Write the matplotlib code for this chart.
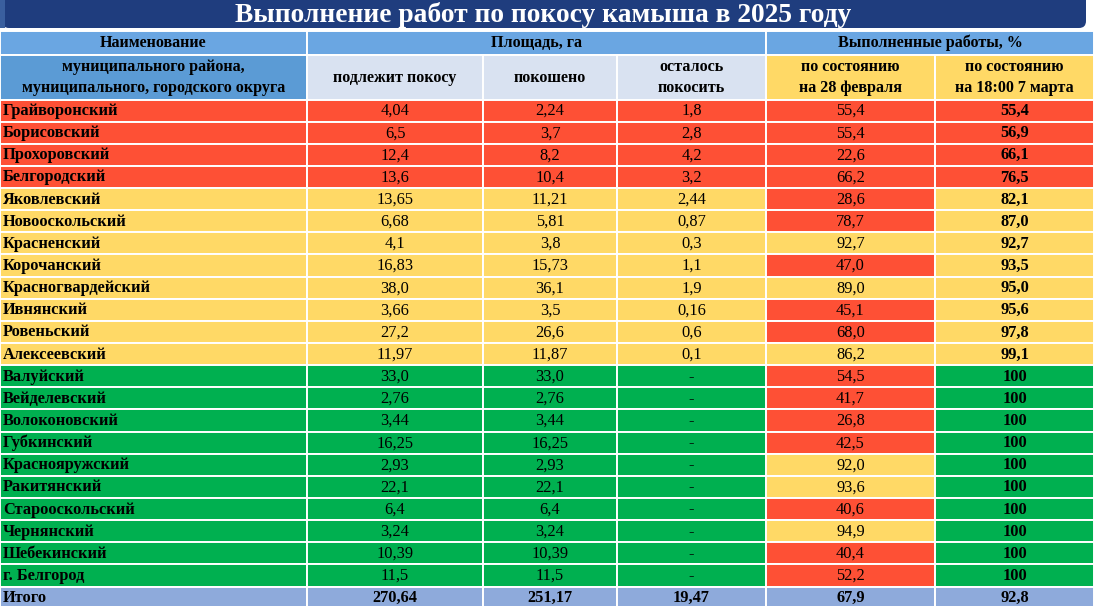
import matplotlib
matplotlib.use("Agg")
import matplotlib.pyplot as plt
from matplotlib.patches import Rectangle, FancyBboxPatch

# ---------------- data ----------------
title = "Выполнение работ по покосу камыша в 2025 году"
districts = ["Грайворонский", "Борисовский", "Прохоровский", "Белгородский",
             "Яковлевский", "Новооскольский", "Красненский", "Корочанский",
             "Красногвардейский", "Ивнянский", "Ровеньский", "Алексеевский",
             "Валуйский", "Вейделевский", "Волоконовский", "Губкинский",
             "Краснояружский", "Ракитянский", "Старооскольский", "Чернянский",
             "Шебекинский", "г. Белгород"]
to_mow = ["4,04", "6,5", "12,4", "13,6", "13,65", "6,68", "4,1", "16,83",
          "38,0", "3,66", "27,2", "11,97", "33,0", "2,76", "3,44", "16,25",
          "2,93", "22,1", "6,4", "3,24", "10,39", "11,5"]
mowed = ["2,24", "3,7", "8,2", "10,4", "11,21", "5,81", "3,8", "15,73",
         "36,1", "3,5", "26,6", "11,87", "33,0", "2,76", "3,44", "16,25",
         "2,93", "22,1", "6,4", "3,24", "10,39", "11,5"]
remaining = ["1,8", "2,8", "4,2", "3,2", "2,44", "0,87", "0,3", "1,1",
             "1,9", "0,16", "0,6", "0,1", "-", "-", "-", "-",
             "-", "-", "-", "-", "-", "-"]
pct_feb28 = ["55,4", "55,4", "22,6", "66,2", "28,6", "78,7", "92,7", "47,0",
             "89,0", "45,1", "68,0", "86,2", "54,5", "41,7", "26,8", "42,5",
             "92,0", "93,6", "40,6", "94,9", "40,4", "52,2"]
pct_mar7 = ["55,4", "56,9", "66,1", "76,5", "82,1", "87,0", "92,7", "93,5",
            "95,0", "95,6", "97,8", "99,1", "100", "100", "100", "100",
            "100", "100", "100", "100", "100", "100"]
total_label = "Итого"
totals = ["270,64", "251,17", "19,47", "67,9", "92,8"]

hdr_name = ["Наименование", "муниципального района,\nмуниципального, городского округа"]
hdr_area = "Площадь, га"
hdr_done = "Выполненные работы, %"
sub_headers = ["подлежит покосу", "покошено", "осталось\nпокосить",
               "по состоянию\nна 28 февраля", "по состоянию\nна 18:00 7 марта"]

# ---------------- style ----------------
RED = "#fe5035"
YEL = "#ffd966"
GRN = "#00b050"
TOT = "#8eaadb"
HDR1 = "#6aa6e2"
HDR2 = "#5b9bd5"
SUB = "#d9e2f1"
TITLE_BG = "#1f3d7e"
FONT = "Liberation Serif"

def num(s):
    return float(s.replace(",", ".")) if s != "-" else None

def status_color(v):
    if v >= 100:
        return GRN
    if v >= 80:
        return YEL
    return RED

col_edges = [0, 307, 483, 617, 766, 935, 1094]
y_h1, y_h2, y_data = 31, 54.5, 99.5
row_h = 22.14

fig = plt.figure(figsize=(10.94, 6.06), dpi=100)
ax = fig.add_axes([0, 0, 1, 1])
ax.set_xlim(0, 1094)
ax.set_ylim(606, 0)
ax.axis("off")

def cell(x0, x1, y0, y1, color, lw=1.4):
    ax.add_patch(Rectangle((x0, y0), x1 - x0, y1 - y0, facecolor=color,
                           edgecolor="white", linewidth=lw))

def txt(x, y, s, ha="center", bold=False, size=11, color="black", ls=1.45):
    ax.text(x, y, s, ha=ha, va="center", fontsize=size, family=FONT,
            fontweight="bold" if bold else "normal", color=color,
            linespacing=ls)

# title bar
ax.add_patch(Rectangle((0, 0), 1094, 31, facecolor="white", edgecolor="none"))
ax.add_patch(FancyBboxPatch((2, -8), 1084, 36, boxstyle="round,pad=0,rounding_size=7",
                            facecolor=TITLE_BG, edgecolor="none"))
ax.add_patch(Rectangle((0, 0), 5, 28, facecolor="#3a5f9e", edgecolor="none"))
txt(543, 15, title, bold=True, size=19.8, color="white")

HS = 11.6  # header font size
# header row 1
cell(col_edges[0], col_edges[1], y_h1, y_h2, HDR1)
cell(col_edges[1], col_edges[4], y_h1, y_h2, HDR1)
cell(col_edges[4], col_edges[6], y_h1, y_h2, HDR1)
txt((col_edges[0] + col_edges[1]) / 2, (y_h1 + y_h2) / 2, hdr_name[0], bold=True, size=HS)
txt((col_edges[1] + col_edges[4]) / 2, (y_h1 + y_h2) / 2, hdr_area, bold=True, size=HS)
txt((col_edges[4] + col_edges[6]) / 2, (y_h1 + y_h2) / 2, hdr_done, bold=True, size=HS)

# header row 2
cell(col_edges[0], col_edges[1], y_h2, y_data, HDR2)
txt((col_edges[0] + col_edges[1]) / 2, (y_h2 + y_data) / 2 + 0.5, hdr_name[1], bold=True, size=HS, ls=1.45)
for j, s in enumerate(sub_headers):
    c = SUB if j < 3 else YEL
    cell(col_edges[j + 1], col_edges[j + 2], y_h2, y_data, c)
    txt((col_edges[j + 1] + col_edges[j + 2]) / 2, (y_h2 + y_data) / 2 + 0.5, s,
        bold=True, size=HS, ls=1.45)

NS = 11.8  # name size
VS = 11.8  # value size
# data rows
for i, name in enumerate(districts):
    y0 = y_data + i * row_h
    y1 = y0 + row_h
    yc = (y0 + y1) / 2 + 0.5
    row_col = status_color(num(pct_mar7[i]))
    feb_col = status_color(num(pct_feb28[i]))
    fills = [row_col, row_col, row_col, row_col, feb_col, row_col]
    vals = [name, to_mow[i], mowed[i], remaining[i], pct_feb28[i], pct_mar7[i]]
    for j in range(6):
        cell(col_edges[j], col_edges[j + 1], y0, y1, fills[j])
        if j == 0:
            txt(3, yc, vals[j], ha="left", bold=True, size=NS)
        else:
            txt((col_edges[j] + col_edges[j + 1]) / 2, yc, vals[j],
                bold=(j == 5), size=VS)

# total row
y0 = y_data + len(districts) * row_h
y1 = y0 + row_h
yc = (y0 + y1) / 2 + 0.5
for j in range(6):
    cell(col_edges[j], col_edges[j + 1], y0, y1, TOT)
txt(3, yc, total_label, ha="left", bold=True, size=NS)
for j, s in enumerate(totals):
    txt((col_edges[j + 1] + col_edges[j + 2]) / 2, yc, s, bold=True, size=VS)

fig.savefig("out.png", dpi=100)
